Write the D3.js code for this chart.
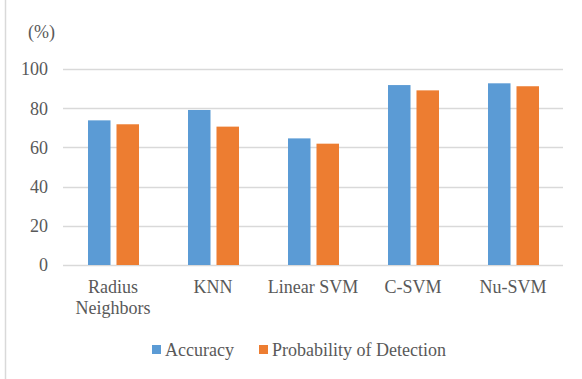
<!DOCTYPE html>
<html><head><meta charset="utf-8">
<script src="https://cdn.jsdelivr.net/npm/d3@7"></script>
<style>body{margin:0;background:#fff}svg{display:block}
svg text{font-family:"Liberation Serif","Times New Roman",Times,serif;}</style>
</head><body>
<svg id="chart" width="582" height="379"></svg>
<script>
const categories = [["Radius","Neighbors"],["KNN"],["Linear SVM"],["C-SVM"],["Nu-SVM"]];
const seriesNames = ["Accuracy","Probability of Detection"];
const accuracy = [73.8, 79.1, 64.6, 91.8, 92.7];
const detection = [71.8, 70.6, 61.9, 89.1, 91.2];
const yTicks = [0, 20, 40, 60, 80, 100];
const colors = ["#5b9bd5", "#ed7d31"];

const svg = d3.select("#chart");
const textColor = "#595959";
const fs = 18;

// left frame line
svg.append("line").attr("x1",5.5).attr("x2",5.5).attr("y1",0).attr("y2",379)
  .attr("stroke","#d9d9d9").attr("stroke-width",1.5);

const x0 = d3.scaleBand().domain(d3.range(categories.length)).range([63, 563]);
const y = d3.scaleLinear().domain([0, 100]).range([265, 69]);
const x1 = d3.scaleBand().domain([0,1]).range([25, 76]).paddingInner(0.21);

// gridlines
svg.append("g").selectAll("line").data(yTicks).join("line")
  .attr("x1", 63).attr("x2", 563)
  .attr("y1", d => Math.round(y(d)) + 0.5).attr("y2", d => Math.round(y(d)) + 0.5)
  .attr("stroke", "#d9d9d9").attr("stroke-width", 1.3);

// y-axis labels
svg.append("g").selectAll("text").data(yTicks).join("text")
  .attr("x", 48).attr("y", d => y(d)).attr("dy", "0.35em")
  .attr("text-anchor", "end").attr("font-size", fs)
  .attr("fill", textColor).text(d => d);

svg.append("text").attr("x", 28).attr("y", 32).attr("dy","0.35em")
  .attr("font-size", fs).attr("fill", textColor).text("(%)");

// bars
const series = [accuracy, detection];
series.forEach((vals, si) => {
  svg.append("g").selectAll("rect").data(vals).join("rect")
    .attr("x", (d, i) => x0(i) + x1(si))
    .attr("width", x1.bandwidth())
    .attr("y", d => y(d))
    .attr("height", d => y(0) - y(d))
    .attr("fill", colors[si]);
});

// category labels
const cat = svg.append("g").selectAll("text").data(categories).join("text")
  .attr("x", (d, i) => x0(i) + x0.bandwidth()/2)
  .attr("y", 287)
  .attr("text-anchor","middle").attr("font-size", fs)
  .attr("fill", textColor);
cat.each(function(d){
  const t = d3.select(this);
  d.forEach((line, li) => {
    t.append("tspan").attr("x", t.attr("x")).attr("dy", li === 0 ? "0.35em" : "1.17em").text(line);
  });
});

// legend
const legendX = [152, 259];
const lg = svg.append("g");
seriesNames.forEach((n, i) => {
  lg.append("rect").attr("x", legendX[i]).attr("y", 345).attr("width", 9).attr("height", 9).attr("fill", colors[i]);
  lg.append("text").attr("x", legendX[i] + 13).attr("y", 350).attr("dy","0.35em")
    .attr("font-size", fs).attr("fill", textColor).text(n);
});
</script>
</body></html>
